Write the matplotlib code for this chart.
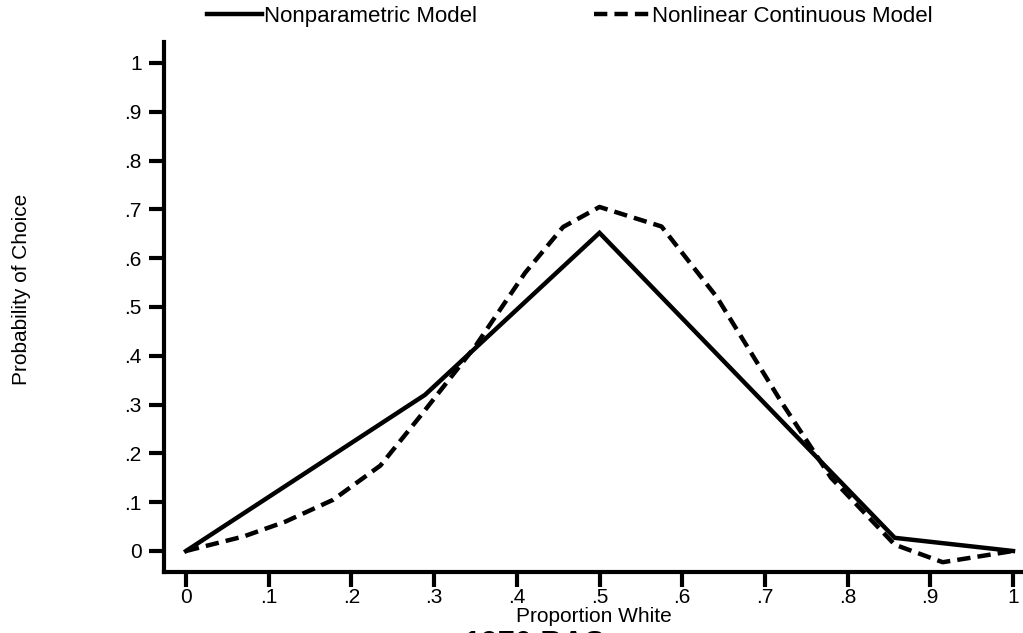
import matplotlib.pyplot as plt

plt.rcParams['font.family'] = ['Liberation Sans', 'DejaVu Sans']

# Nonparametric Model
x_np = [0, 0.289, 0.5, 0.857, 1.0]
y_np = [0, 0.32, 0.652, 0.027, 0.0]

# Nonlinear Continuous Model
x_nl = [0, 0.07, 0.12, 0.178, 0.235, 0.285, 0.35, 0.41, 0.456, 0.5,
        0.575, 0.642, 0.72, 0.78, 0.857, 0.915, 1.0]
y_nl = [0, 0.03, 0.06, 0.105, 0.175, 0.28, 0.42, 0.57, 0.664, 0.705,
        0.665, 0.52, 0.305, 0.15, 0.013, -0.023, 0.0]

ticks = [0, 0.1, 0.2, 0.3, 0.4, 0.5, 0.6, 0.7, 0.8, 0.9, 1]
tick_labels = ['0', '.1', '.2', '.3', '.4', '.5', '.6', '.7', '.8', '.9', '1']

fig = plt.figure(figsize=(10.23, 6.33), dpi=100)
ax = fig.add_axes([164 / 1023, 61 / 633, 859 / 1023, 530 / 633])

ax.plot(x_np, y_np, color='black', lw=3.2, solid_joinstyle='miter',
        label='Nonparametric Model')
ax.plot(x_nl, y_nl, color='black', lw=3.2, linestyle=(0, (3, 1.6)),
        label='Nonlinear Continuous Model')

ax.set_xlim(-22 / 827, 837 / 827)
ax.set_ylim(-21 / 488, 509 / 488)

ax.set_xticks(ticks)
ax.set_xticklabels(tick_labels)
ax.set_yticks(ticks)
ax.set_yticklabels(tick_labels)
ax.tick_params(axis='both', length=11, width=3, labelsize=15)
ax.tick_params(axis='x', pad=0.5)
ax.tick_params(axis='y', pad=5)

for s in ['top', 'right']:
    ax.spines[s].set_visible(False)
for s in ['left', 'bottom']:
    ax.spines[s].set_linewidth(3)

ax.set_xlabel('Proportion White', fontsize=15, labelpad=0)

fig.text(22 / 1023, 1 - 289 / 633, 'Probability of Choice', rotation=90,
         fontsize=15, ha='center', va='center')

fig.legend(loc='upper left', bbox_to_anchor=(207 / 1023, 1 - 6 / 633),
           ncol=2, frameon=False, fontsize=16, handlelength=2.48,
           handletextpad=0.1, columnspacing=5.27, borderpad=0,
           borderaxespad=0)

fig.text(534 / 1023, 3 / 633, '1970 BAS', fontsize=22, fontweight='bold',
         ha='center', va='top')

fig.savefig('out.png', dpi=100)
